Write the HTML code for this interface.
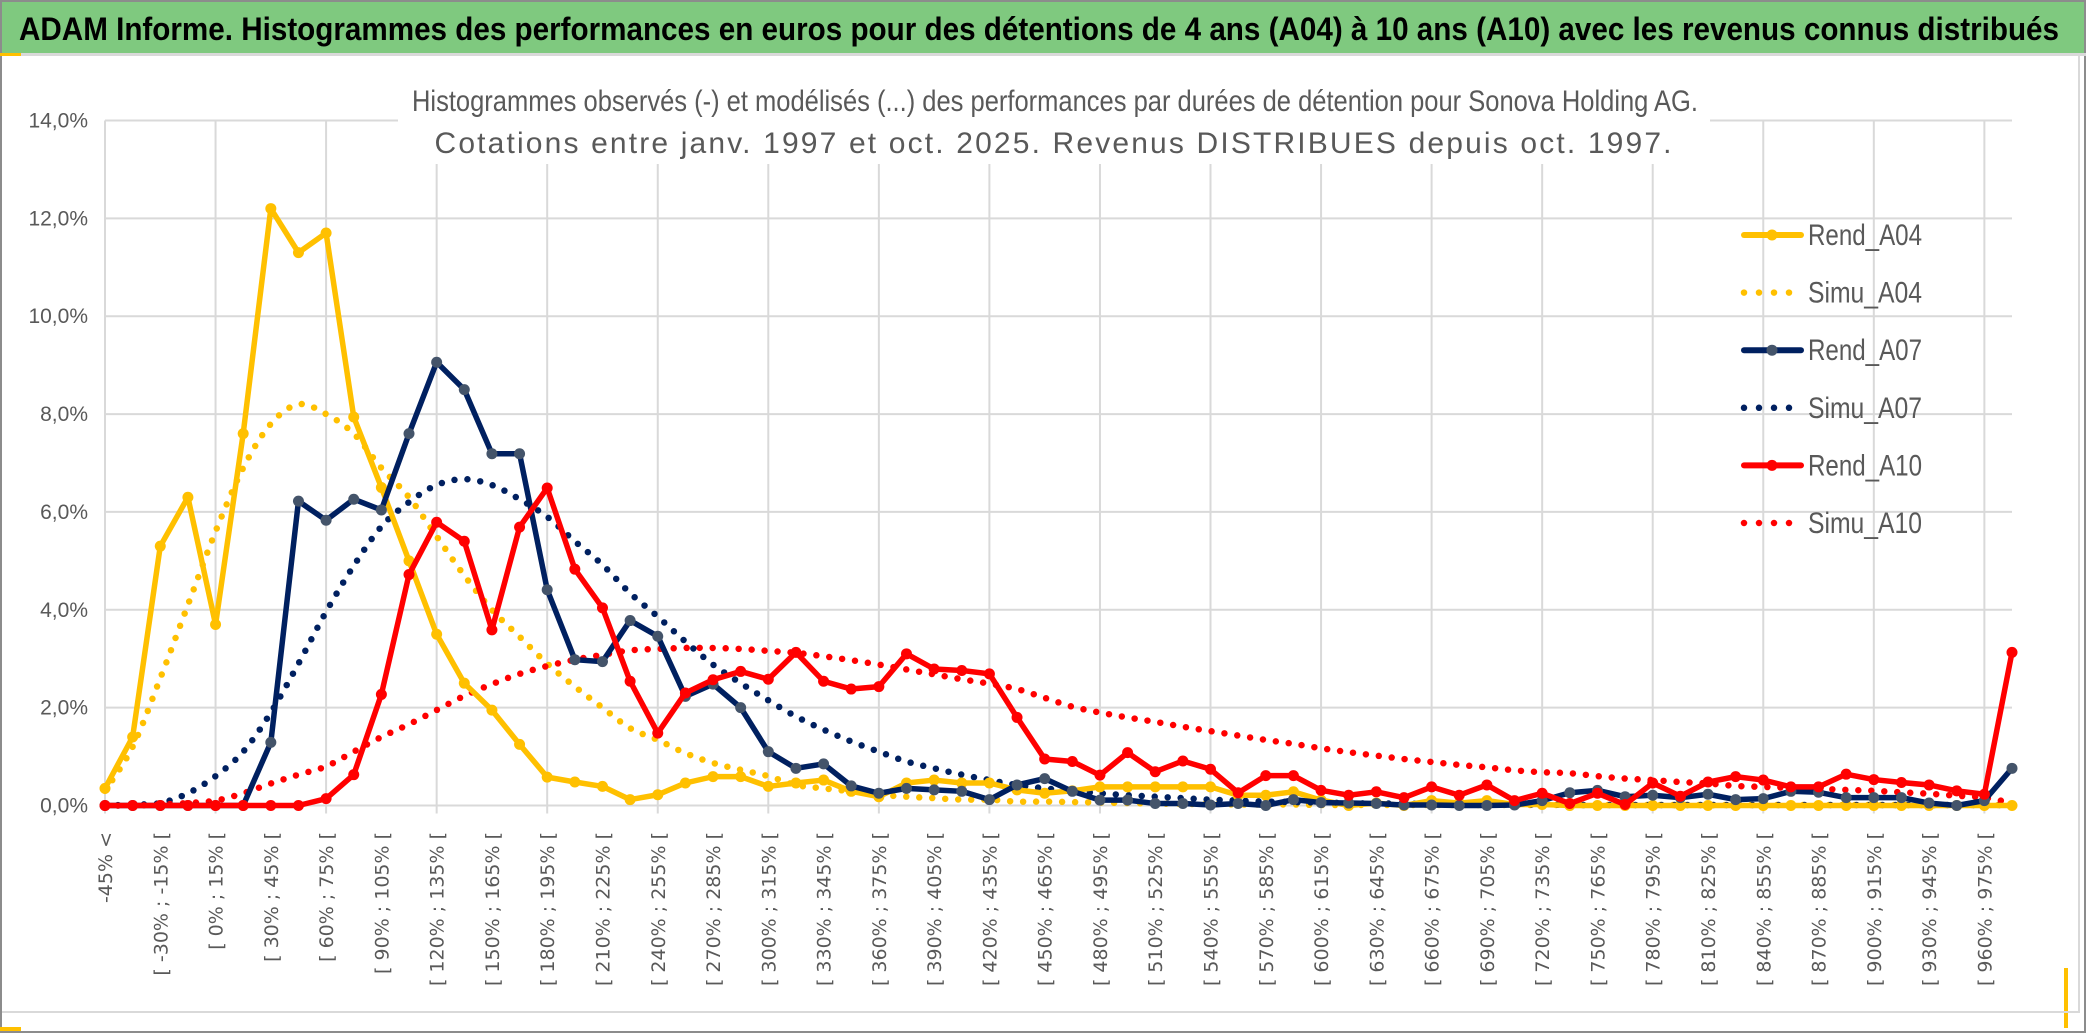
<!DOCTYPE html>
<html><head><meta charset="utf-8"><style>
html,body{margin:0;padding:0;background:#fff;}
svg{display:block;}
</style></head><body>
<svg id="chart" width="2086" height="1033" viewBox="0 0 2086 1033" xmlns="http://www.w3.org/2000/svg">
<rect x="0" y="0" width="2086" height="1033" fill="#fff"/>
<rect x="1" y="1" width="2084" height="1031" fill="none" stroke="#8c8c8c" stroke-width="2"/>
<rect x="2" y="2" width="2082" height="51" fill="#7fc97f"/>
<rect x="0" y="53" width="2086" height="3" fill="#d9d9d9"/>
<rect x="0" y="53" width="21" height="3" fill="#ffc000"/>
<rect x="0" y="1027" width="21" height="4" fill="#ffc000"/>
<rect x="2064" y="968" width="4" height="60" fill="#ffc000"/>
<rect x="2" y="1011" width="2078" height="2" fill="#d9d9d9"/>
<rect x="2078" y="56" width="2" height="957" fill="#d9d9d9"/>
<text x="19" y="40" font-family="'Liberation Sans Narrow','Liberation Sans',sans-serif" font-weight="bold" font-size="32" fill="#000" textLength="2040" lengthAdjust="spacingAndGlyphs">ADAM Informe. Histogrammes des performances en euros pour des détentions de 4 ans (A04) à 10 ans (A10) avec les revenus connus distribués</text>
<g id="grid"></g>
<rect x="398" y="72" width="1312" height="92" fill="#fff"/>
<text x="1055" y="111" text-anchor="middle" font-family="'Liberation Sans Narrow','Liberation Sans',sans-serif" font-size="30" fill="#595959" textLength="1286" lengthAdjust="spacingAndGlyphs">Histogrammes observés (-) et modélisés (...) des performances par durées de détention pour Sonova Holding AG.</text>
<text x="1053" y="153" text-anchor="middle" font-family="'Liberation Sans Narrow','Liberation Sans',sans-serif" font-size="30" fill="#595959" textLength="1237" lengthAdjust="spacing">Cotations entre janv. 1997 et oct. 2025. Revenus DISTRIBUES depuis oct. 1997.</text>
<g id="yaxis"></g>
<g id="xaxis"></g>
<g id="series"></g>
<g id="legend"></g>
</svg>
<script>
const yTicks = [0, 2, 4, 6, 8, 10, 12, 14];
const yTickLabels = ["0,0%", "2,0%", "4,0%", "6,0%", "8,0%", "10,0%", "12,0%", "14,0%"];
const categoryLowerBounds = [-45,-45,-30,-15,0,15,30,45,60,75,90,105,120,135,150,165,180,195,210,225,240,255,270,285,300,315,330,345,360,375,390,405,420,435,450,465,480,495,510,525,540,555,570,585,600,615,630,645,660,675,690,705,720,735,750,765,780,795,810,825,840,855,870,885,900,915,930,945,960,975];
const rendA04 = [0.35,1.4,5.3,6.3,3.7,7.6,12.2,11.3,11.7,7.94,6.5,5.0,3.5,2.5,1.95,1.25,0.58,0.48,0.39,0.12,0.22,0.46,0.59,0.59,0.39,0.46,0.52,0.29,0.18,0.46,0.52,0.46,0.46,0.32,0.25,0.3,0.38,0.38,0.38,0.38,0.38,0.21,0.21,0.28,0.11,0,0.05,0,0.1,0.05,0.1,0.02,0.02,0,0,0,0,0,0,0,0,0,0,0,0,0,0,0,0,0];
const simuA04 = [0.3,1.2,2.6,4.1,5.6,6.9,7.8,8.2,8.0,7.6,6.9,6.3,5.5,4.7,4.0,3.45,2.9,2.43,2.0,1.58,1.34,1.07,0.87,0.73,0.6,0.42,0.35,0.29,0.22,0.18,0.15,0.12,0.12,0.08,0.08,0.07,0.06,0.05,0.04,0.03,0.03,0.02,0.02,0.02,0.01,0.01,0.01,0.01,0.01,0.01,0.01,0.01,0.01,0.01,0.01,0.01,0.01,0.01,0.01,0.01,0.01,0.01,0.01,0.01,0.01,0.01,0.01,0.01,0.01,0.01];
const rendA07 = [0,0,0,0,0,0,1.29,6.22,5.83,6.26,6.04,7.6,9.06,8.5,7.19,7.19,4.41,2.98,2.94,3.78,3.46,2.23,2.48,2.0,1.1,0.76,0.85,0.4,0.25,0.35,0.32,0.29,0.12,0.42,0.55,0.29,0.11,0.11,0.04,0.04,0.01,0.04,0,0.12,0.06,0.05,0.04,0.01,0.01,0,0,0.01,0.1,0.26,0.31,0.18,0.21,0.16,0.23,0.12,0.14,0.29,0.27,0.16,0.16,0.16,0.05,0,0.1,0.76];
const simuA07 = [0,0.02,0.05,0.25,0.6,1.1,1.9,2.9,3.96,4.9,5.7,6.2,6.55,6.67,6.55,6.26,5.9,5.4,4.92,4.34,3.86,3.35,2.88,2.5,2.15,1.82,1.55,1.31,1.1,0.9,0.76,0.63,0.52,0.42,0.35,0.3,0.25,0.21,0.18,0.15,0.12,0.1,0.08,0.07,0.06,0.05,0.04,0.04,0.03,0.03,0.02,0.02,0.02,0.01,0.01,0.01,0.01,0.01,0.01,0.01,0.01,0.01,0.01,0.01,0.01,0.01,0.01,0.01,0.01,0.01];
const rendA10 = [0,0,0,0,0,0,0,0,0.14,0.63,2.27,4.72,5.79,5.4,3.59,5.69,6.49,4.83,4.04,2.54,1.48,2.3,2.57,2.74,2.58,3.13,2.54,2.38,2.43,3.1,2.79,2.76,2.69,1.8,0.95,0.9,0.62,1.08,0.69,0.91,0.74,0.26,0.61,0.61,0.31,0.21,0.28,0.16,0.38,0.21,0.42,0.1,0.25,0.04,0.25,0.02,0.46,0.19,0.48,0.59,0.52,0.38,0.38,0.64,0.53,0.47,0.42,0.3,0.23,3.13];
const simuA10 = [0,0,0.02,0.05,0.1,0.25,0.45,0.63,0.8,1.1,1.4,1.66,1.95,2.24,2.48,2.69,2.85,2.98,3.08,3.17,3.2,3.22,3.22,3.2,3.16,3.12,3.05,2.97,2.88,2.78,2.68,2.58,2.49,2.38,2.2,2.02,1.9,1.8,1.71,1.61,1.52,1.43,1.34,1.26,1.17,1.09,1.02,0.95,0.89,0.83,0.78,0.72,0.68,0.66,0.6,0.55,0.52,0.48,0.45,0.4,0.38,0.36,0.34,0.32,0.3,0.27,0.24,0.2,0.16,0.05];
const legendNames = ["Rend_A04","Simu_A04","Rend_A07","Simu_A07","Rend_A10","Simu_A10"];

const NS = "http://www.w3.org/2000/svg";
const PL = 105, PR = 2012, PT = 120.5, PB = 805.5, YMAX = 14;
const nCat = categoryLowerBounds.length;
function xPos(i){ return PL + i * (PR - PL) / (nCat - 1); }
function yPos(v){ return PB - v / YMAX * (PB - PT); }
function mk(tag, attrs, parent){ const e = document.createElementNS(NS, tag); for (const k in attrs) e.setAttribute(k, attrs[k]); parent.appendChild(e); return e; }
function catLabel(i){
  const a = categoryLowerBounds[i];
  if (i === 0) return a + "% <";
  return "[ " + a + "% ; " + (a + 15) + "% [";
}

const grid = document.getElementById('grid');
yTicks.forEach(function(t){
  const l = mk('line', {x1: PL, x2: PR, y1: yPos(t), y2: yPos(t), stroke: '#d9d9d9', 'stroke-width': 2}, grid);
  
  
});
for (let i = 0; i < nCat; i += 4) {
  const l = mk('line', {x1: xPos(i), x2: xPos(i), y1: PT, y2: PB + 8, stroke: '#d9d9d9', 'stroke-width': 2}, grid);
  
  
}

const yaxis = document.getElementById('yaxis');
yTicks.forEach(function(t, k){
  const tx = mk('text', {x: 88, y: yPos(t) + 7, 'text-anchor': 'end', 'font-family': "'Liberation Sans Narrow','Liberation Sans',sans-serif", 'font-size': 21, fill: '#595959'}, yaxis);
  tx.textContent = yTickLabels[k];
  
  
});

const xaxis = document.getElementById('xaxis');
for (let i = 0; i < nCat; i += 2) {
  const tx = mk('text', {transform: 'translate(' + (xPos(i) + 7) + ',832) rotate(-90)', 'text-anchor': 'end', 'font-family': "'DejaVu Sans',sans-serif", 'font-size': 19, fill: '#595959'}, xaxis);
  tx.textContent = catLabel(i);
  
  
}

function smoothPath(vals){
  const p = vals.map(function(v, i){ return [xPos(i), yPos(v)]; });
  let d = 'M' + p[0][0] + ' ' + p[0][1];
  for (let i = 0; i < p.length - 1; i++) {
    const p0 = p[Math.max(0, i - 1)], p1 = p[i], p2 = p[i + 1], p3 = p[Math.min(p.length - 1, i + 2)];
    const c1x = p1[0] + (p2[0] - p0[0]) / 6, c1y = p1[1] + (p2[1] - p0[1]) / 6;
    const c2x = p2[0] - (p3[0] - p1[0]) / 6, c2y = p2[1] - (p3[1] - p1[1]) / 6;
    d += ' C' + c1x + ' ' + c1y + ' ' + c2x + ' ' + c2y + ' ' + p2[0] + ' ' + p2[1];
  }
  return d;
}
function linePath(vals){
  return vals.map(function(v, i){ return (i ? 'L' : 'M') + xPos(i) + ' ' + yPos(v); }).join(' ');
}

const series = document.getElementById('series');
function drawSimu(vals, color, name){
  const p = mk('path', {d: smoothPath(vals), fill: 'none', stroke: color, 'stroke-width': 6.5, 'stroke-linecap': 'round', 'stroke-dasharray': '0 13'}, series);
  
  
}
function drawRend(vals, color, mcolor, name){
  const g = mk('g', {}, series);
  
  
  mk('path', {d: linePath(vals), fill: 'none', stroke: color, 'stroke-width': 5.5, 'stroke-linejoin': 'round'}, g);
  vals.forEach(function(v, i){
    const c = mk('circle', {cx: xPos(i), cy: yPos(v), r: 5.5, fill: mcolor}, g);
    
    
  });
}
drawSimu(simuA04, '#ffc000', 'simu-a04-line');
drawSimu(simuA07, '#002060', 'simu-a07-line');
drawSimu(simuA10, '#ff0000', 'simu-a10-line');
drawRend(rendA04, '#ffc000', '#ffc000', 'rend-a04-line');
drawRend(rendA07, '#002060', '#44546a', 'rend-a07-line');
drawRend(rendA10, '#ff0000', '#ff0000', 'rend-a10-line');

const legend = document.getElementById('legend');
const legendColors = ['#ffc000','#ffc000','#002060','#002060','#ff0000','#ff0000'];
const legendMarkers = ['#ffc000',null,'#44546a',null,'#ff0000',null];
legendNames.forEach(function(n, k){
  const y = 235 + k * 57.6;
  const g = mk('g', {}, legend);
  
  
  if (legendMarkers[k]) {
    mk('line', {x1: 1744, x2: 1801, y1: y, y2: y, stroke: legendColors[k], 'stroke-width': 6, 'stroke-linecap': 'round'}, g);
    mk('circle', {cx: 1772, cy: y, r: 5.5, fill: legendMarkers[k]}, g);
  } else {
    mk('line', {x1: 1744, x2: 1801, y1: y, y2: y, stroke: legendColors[k], 'stroke-width': 6.5, 'stroke-linecap': 'round', 'stroke-dasharray': '0 15'}, g);
  }
  const tx = mk('text', {x: 1808, y: y + 10, 'font-family': "'Liberation Sans Narrow','Liberation Sans',sans-serif", 'font-size': 30, fill: '#595959', textLength: 114, lengthAdjust: 'spacingAndGlyphs'}, g);
  tx.textContent = n;
});
</script>
</body></html>
